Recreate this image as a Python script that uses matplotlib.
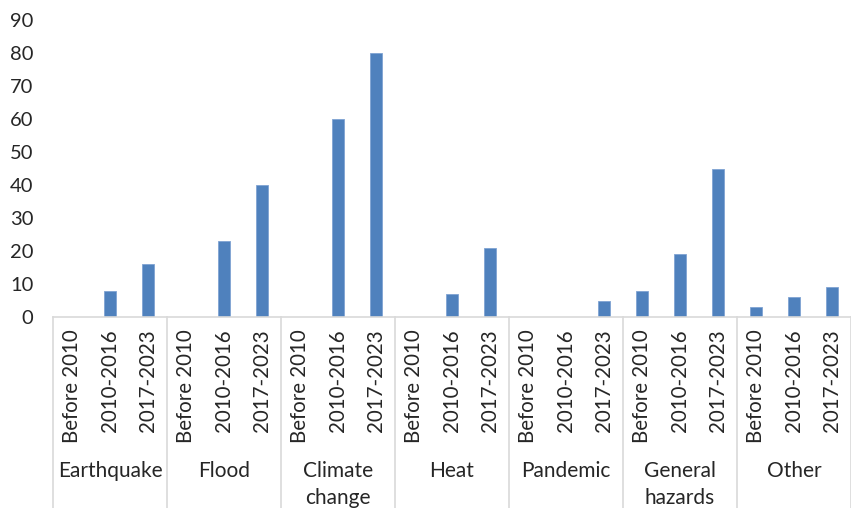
import matplotlib.pyplot as plt
from matplotlib.transforms import blended_transform_factory

plt.rcParams['font.family'] = ['Lato', 'DejaVu Sans']

hazards = ["Earthquake", "Flood", "Climate\nchange", "Heat", "Pandemic",
           "General\nhazards", "Other"]
periods = ["Before 2010", "2010-2016", "2017-2023"]
counts = [
    [0, 8, 16],    # Earthquake
    [0, 23, 40],   # Flood
    [0, 60, 80],   # Climate change
    [0, 7, 21],    # Heat
    [0, 0, 5],     # Pandemic
    [8, 19, 45],   # General hazards
    [3, 6, 9],     # Other
]
y_ticks = [0, 10, 20, 30, 40, 50, 60, 70, 80, 90]

W, H = 851, 508
fig = plt.figure(figsize=(W / 100, H / 100), dpi=100)
x0, x1, y_zero, y_top = 53, 851, 317, 20
ax = fig.add_axes([x0 / W, (H - y_zero) / H, (x1 - x0) / W, (y_zero - y_top) / H])

n_per = len(periods)
xs, vals = [], []
for g, row in enumerate(counts):
    for p, v in enumerate(row):
        xs.append(g * n_per + p)
        vals.append(v)

ax.bar(xs, vals, width=0.32, color="#4F81BD", edgecolor="#7FA3D3", linewidth=0.6)

ax.set_xlim(-0.5, len(xs) - 0.5)
ax.set_ylim(0, 90)
ax.set_yticks(y_ticks)
ax.tick_params(axis="y", length=0, labelsize=14.5, colors="#262626", pad=14)
ax.set_yticklabels([str(t) for t in y_ticks], ha="right")
ax.set_xticks([])
for side in ("left", "right", "top"):
    ax.spines[side].set_visible(False)
ax.spines["bottom"].set_color("#D9D9D9")
ax.spines["bottom"].set_linewidth(1.2)

# multi-level category axis: period labels, hazard labels and group dividers
tr = blended_transform_factory(ax.transData, fig.transFigure)
for x, lab in zip(xs, periods * len(hazards)):
    ax.text(x, (H - 329) / H, lab, transform=tr, rotation=90, ha="center",
            va="top", fontsize=14.8, color="#262626")
for g, name in enumerate(hazards):
    ax.text(g * n_per + 1, (H - 461) / H, name, transform=tr, ha="center",
            va="top", fontsize=15, color="#262626", linespacing=1.45)
for g in range(len(hazards) + 1):
    xd = g * n_per - 0.5
    ax.plot([xd, xd], [(H - y_zero) / H, 0], transform=tr, color="#D9D9D9",
            linewidth=1.2, clip_on=False)

fig.savefig("out.png", dpi=100)
